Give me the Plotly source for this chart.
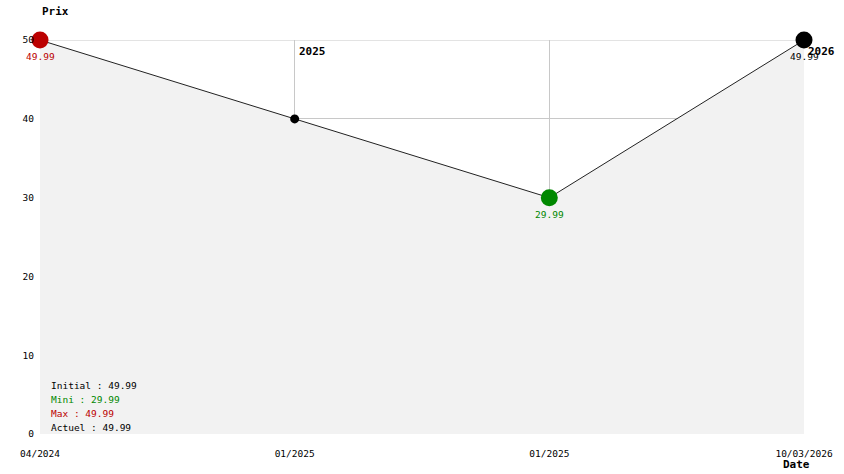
import plotly.graph_objects as go

x_pos = [0, 1, 2, 3]
prices = [49.99, 39.99, 29.99, 49.99]
x_ticklabels = ["04/2024", "01/2025", "01/2025", "10/03/2026"]
marker_colors = ["#bb0000", "#000000", "#008800", "#000000"]
marker_sizes = [17, 9, 17, 17]
year_marks = [(1, "2025"), (3, "2026")]
y_ticks = [0, 10, 20, 30, 40, 50]

FONT = "DejaVu Sans Mono"
GRID = "#c8c8c8"

fig = go.Figure()
fig.add_trace(go.Scatter(
    x=x_pos, y=prices, mode="lines", fill="tozeroy",
    fillcolor="#f2f2f2", line=dict(color="#222222", width=1),
    hoverinfo="skip", showlegend=False))
fig.add_trace(go.Scatter(
    x=x_pos, y=prices, mode="markers",
    marker=dict(color=marker_colors, size=marker_sizes, opacity=1, line=dict(width=0)),
    cliponaxis=False, showlegend=False))

# top grid line (at the range edge, not drawn by plotly)
fig.add_shape(type="line", xref="x", yref="y", x0=x_pos[0], x1=x_pos[-1],
              y0=y_ticks[-1], y1=y_ticks[-1], layer="below",
              line=dict(color=GRID, width=1))

# value labels under min / max / current markers
val_labels = [(0, prices[0], "#bb0000"), (2, prices[2], "#008800"), (3, prices[3], "#000000")]
for xi, v, c in val_labels:
    fig.add_annotation(x=xi, y=v, text=f"{v:.2f}", showarrow=False,
                       xanchor="center", yanchor="top", yshift=-9,
                       font=dict(family=FONT, size=9.5, color=c))

for xi, t in year_marks:
    fig.add_annotation(x=xi, y=50, text=f"<b>{t}</b>", showarrow=False,
                       xanchor="left", yanchor="top", xshift=2, yshift=-3,
                       font=dict(family=FONT, size=11, color="#000000"))

fig.add_annotation(xref="paper", yref="paper", x=0, y=1, yshift=20,
                   text="<b>Prix</b>", showarrow=False, xanchor="left", yanchor="bottom",
                   font=dict(family=FONT, size=11, color="#000000"))
fig.add_annotation(xref="paper", yref="paper", x=1, y=0, yshift=-22, xshift=8,
                   text="<b>Date</b>", showarrow=False, xanchor="right", yanchor="top",
                   font=dict(family=FONT, size=11, color="#000000"))

summary = [("Initial : 49.99", "#000000"), ("Mini : 29.99", "#008800"),
           ("Max : 49.99", "#bb0000"), ("Actuel : 49.99", "#000000")]
for i, (t, c) in enumerate(summary):
    fig.add_annotation(xref="paper", yref="paper", x=0, y=0, xshift=9,
                       yshift=7 + 14 * (len(summary) - 1 - i),
                       text=t, showarrow=False, xanchor="left", yanchor="middle",
                       font=dict(family=FONT, size=9.5, color=c))

fig.update_layout(
    width=844, height=474,
    margin=dict(l=40, r=40, t=40, b=40),
    plot_bgcolor="#ffffff", paper_bgcolor="#ffffff",
    font=dict(family=FONT, size=9.5, color="#000000"),
    xaxis=dict(range=[0, 3], tickvals=x_pos, ticktext=x_ticklabels,
               showgrid=True, gridcolor=GRID, gridwidth=1,
               zeroline=False, showline=False, ticks="", ticklabelstandoff=12,
               tickfont=dict(family=FONT, size=9.5)),
    yaxis=dict(range=[0, 50], tickvals=y_ticks,
               showgrid=True, gridcolor=GRID, gridwidth=1,
               zeroline=False, showline=False, ticks="", ticklabelstandoff=5,
               tickfont=dict(family=FONT, size=9.5)),
)

fig.write_html("out.html", config={"displayModeBar": False},
               post_script="document.body.style.margin='0px';")
